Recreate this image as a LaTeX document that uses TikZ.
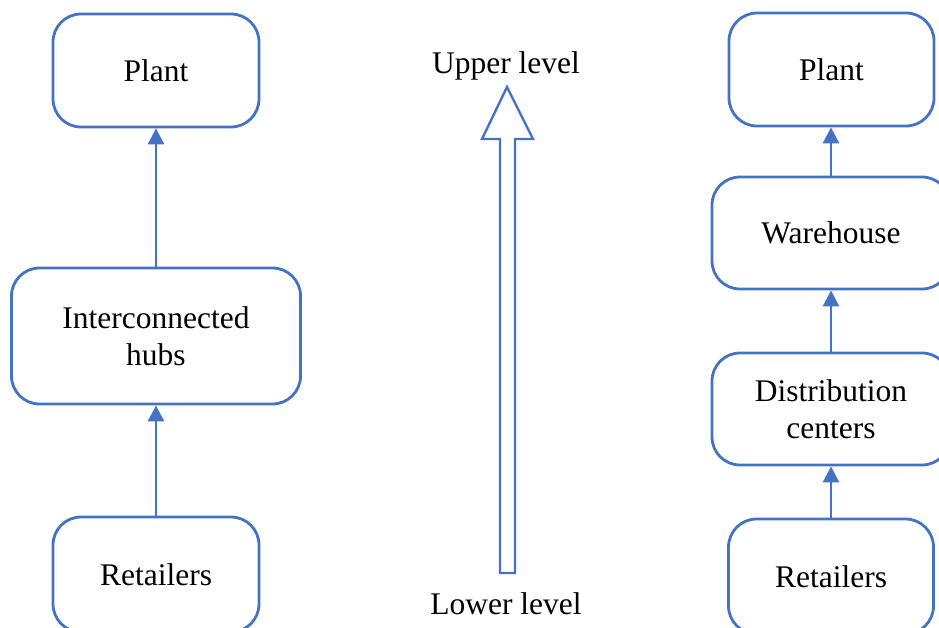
\documentclass[tikz,border=0pt]{standalone}
\usepackage{fontspec}
\setmainfont{Liberation Serif}
\usetikzlibrary{arrows.meta}
\definecolor{oblue}{HTML}{4472C4}
\tikzset{
  box/.style={draw=oblue, line width=2.8pt, rounded corners=28pt, fill=white,
    align=center, inner sep=0pt, font=\fontsize{31.5pt}{37pt}\selectfont},
  conn/.style={draw=oblue, line width=2.8pt, -{Triangle[length=16pt,width=16pt]}},
  lbl/.style={inner sep=0pt, font=\fontsize{31.5pt}{37pt}\selectfont},
  hollow/.style={draw=oblue, line width=2.4pt, fill=white}
}
\begin{document}
\begin{tikzpicture}[x=1pt,y=-1pt]
\useasboundingbox (0,0) rectangle (939,628);
\clip (0,0) rectangle (939,628);
% left column
\node[box, minimum width=206pt, minimum height=113pt] (lp) at (156,70.5) {Plant};
\node[box, minimum width=289pt, minimum height=136pt] (hubs) at (156,336) {Interconnected\\hubs};
\node[box, minimum width=206pt, minimum height=115pt] (lr) at (156,574.5) {Retailers};
\draw[conn] (lr.north) -- (hubs.south);
\draw[conn] (hubs.north) -- (lp.south);
% middle
\node[lbl] (up) at (506,66) {Upper level};
\node[lbl] (low) at (506,604) {Lower level};
\coordinate (tip) at (507,87);
\draw[hollow] (500,573) -- (515,573) -- (515,139) -- (533,139) -- (tip) -- (482,139) -- (500,139) -- cycle;
% right column
\node[box, minimum width=205pt, minimum height=113pt] (rp) at (831.5,69.5) {Plant};
\node[box, minimum width=238pt, minimum height=112pt] (wh) at (831,233) {Warehouse};
\node[box, minimum width=238pt, minimum height=112pt] (dc) at (831,409) {Distribution\\centers};
\node[box, minimum width=205pt, minimum height=115pt] (rr) at (831,576.5) {Retailers};
\draw[conn] (rr.north) -- (rr.north |- dc.south);
\draw[conn] (dc.north) -- (dc.north |- wh.south);
\draw[conn] (wh.north) -- (wh.north |- rp.south);
\end{tikzpicture}
\end{document}
